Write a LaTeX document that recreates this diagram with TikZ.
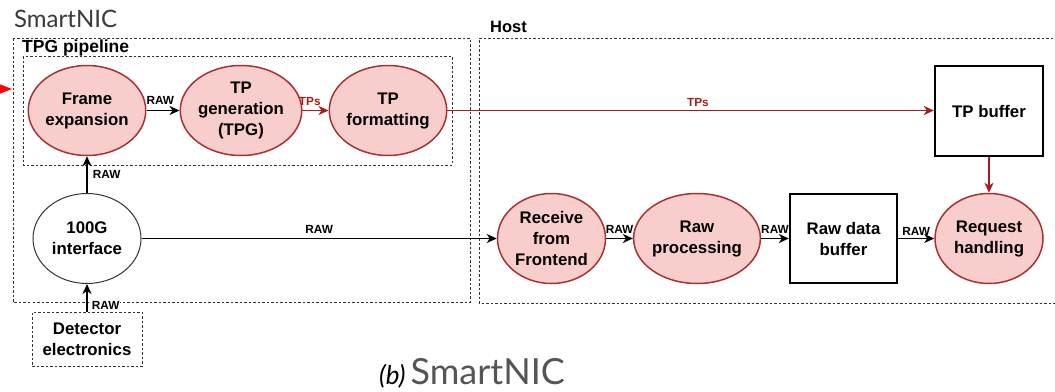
\documentclass[tikz,border=0pt]{standalone}
\usepackage{fontspec}
\setmainfont{Liberation Sans}
\newfontfamily\lato{Lato}
\usetikzlibrary{shapes.geometric,arrows.meta}
\definecolor{pinkfill}{HTML}{F8CECC}
\definecolor{pinkdraw}{HTML}{A83232}
\definecolor{tpred}{HTML}{A61C1C}
\definecolor{capgray}{HTML}{555555}
\definecolor{titlegray}{HTML}{3A3A3A}
\tikzset{
  bigtxt/.style={font=\fontsize{16.8}{21}\selectfont\bfseries, align=center},
  proc/.style={ellipse, draw=pinkdraw, fill=pinkfill, line width=1.5pt,
    minimum width=108pt, minimum height=90pt, inner sep=0pt, bigtxt},
  iface/.style={ellipse, draw=black!80, line width=1pt,
    minimum width=108pt, minimum height=90pt, inner sep=0pt, bigtxt},
  buf/.style={rectangle, draw=black, line width=2.3pt,
    minimum width=107pt, minimum height=90pt, inner sep=0pt, bigtxt},
  detbox/.style={rectangle, draw=black!80, line width=0.7pt, dash pattern=on 2.5pt off 2pt,
    minimum width=110pt, minimum height=54pt, inner sep=0pt, bigtxt},
  grp/.style={draw=black!80, line width=0.7pt, dash pattern=on 2.5pt off 2pt},
  arr/.style={line width=1.8pt, -{Stealth[length=10pt,width=9pt,inset=3pt]}},
  redarr/.style={arr, draw=tpred},
  lbl/.style={font=\fontsize{11.8}{14}\selectfont\bfseries, inner sep=1pt},
}
\begin{document}
\begin{tikzpicture}[x=1pt,y=-1pt]
\useasboundingbox (0,0) rectangle (1055,391);

% group frames
\draw[grp] (13,38) rectangle (470,302);
\draw[grp] (23,56) rectangle (452,165);
\draw[grp] (1062,38) -- (479,38) -- (479,303) -- (1062,303);

% titles
\node[anchor=base west, inner sep=0pt, text=titlegray, font=\lato\fontsize{24}{28}\selectfont] (ttl) at (14,27) {SmartNIC};
\node[anchor=base west, inner sep=0pt, font=\fontsize{17.5}{20}\selectfont\bfseries] (tpgt) at (22,52) {TPG pipeline};
\node[anchor=base west, inner sep=0pt, font=\fontsize{16.5}{20}\selectfont\bfseries] (host) at (490,32) {Host};

% nodes
\node[proc] (fe)  at (87,110.5)  {Frame\\expansion};
\node[proc] (tpg) at (241,110.5) {TP\\generation\\(TPG)};
\node[proc] (tpf) at (388,110.5) {TP\\formatting};
\node[buf, minimum width=108pt] (tpb) at (989,111) {TP buffer};
\node[iface] (ifc) at (87,238.5) {100G\\interface};
\node[detbox] (det) at (87,339) {Detector\\electronics};
\node[proc] (rff) at (551.5,238.5) {Receive\\from\\Frontend};
\node[proc] (rp)  at (697,238.5) {Raw\\processing};
\node[buf, minimum height=89pt] (rdb) at (843.5,238.5) {Raw data\\buffer};
\node[proc] (rh)  at (989,238.5) {Request\\handling};

% incoming red arrow at left edge
\coordinate (inL) at (-12,89);
\coordinate (inR) at (12,89);
\draw[draw=red, line width=1.4pt, -{Stealth[length=12pt,width=9pt,inset=0pt]}, fill=red] (inL) -- (inR);

% connectors
\draw[arr] (fe) -- node[lbl, above=4pt, pos=0.42] {RAW} (tpg);
\draw[redarr] (tpg) -- node[lbl, above=3pt, pos=0.28, text=tpred] {TPs} (tpf);
\draw[redarr] (tpf.east) -- node[lbl, above=2pt, pos=0.515, text=tpred] {TPs} (tpf.east -| tpb.west);
\draw[redarr] (tpb) -- (rh);
\draw[arr] (ifc) -- node[lbl, right=4pt, midway] {RAW} (fe);
\draw[arr] (det) -- node[lbl, right=3pt, pos=0.21, fill=white] {RAW} (ifc);
\draw[arr] (ifc) -- node[lbl, above=3pt, midway, fill=white] {RAW} (rff);
\draw[arr] (rff) -- node[lbl, above=3pt, midway] {RAW} (rp);
\draw[arr] (rp) -- node[lbl, above=3pt, midway] {RAW} (rdb);
\draw[arr] (rdb) -- node[lbl, above=1.5pt, midway] {RAW} (rh);

% caption
\node[anchor=base west, inner sep=0pt] (cap) at (379,384)
  {\lato{\fontsize{26}{30}\selectfont\itshape (b)}\hspace{5pt}{\color{capgray}\fontsize{36}{42}\selectfont SmartNIC}};
\end{tikzpicture}
\end{document}
